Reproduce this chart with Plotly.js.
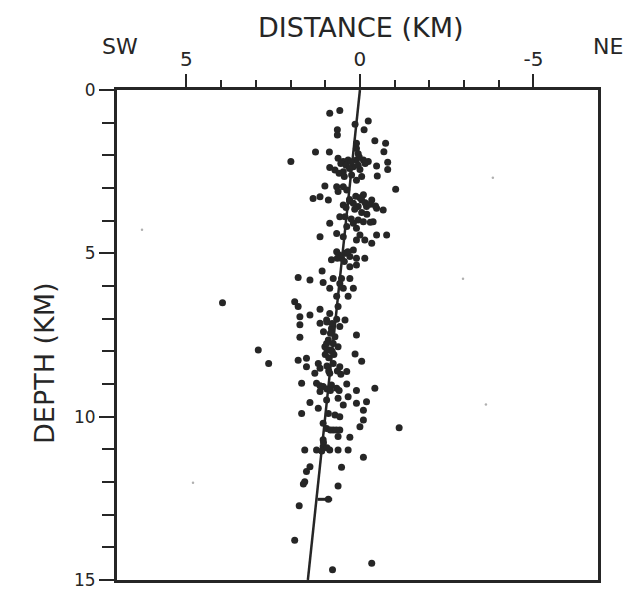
<!DOCTYPE html>
<html>
<head>
<meta charset="utf-8">
<script src="https://cdn.plot.ly/plotly-3.0.1.min.js"></script>
<style>
  html, body { margin: 0; padding: 0; background: #ffffff; }
  #chart { width: 627px; height: 591px; }
</style>
</head>
<body>
<div id="chart"></div>
<script>
// Earthquake hypocentres: distance along profile (km, SW positive) and depth (km)
const eventDistanceKm = [
  0.87, 0.58, 0.14, -0.24, 0.65, 0.65, -0.12, -0.43, -0.74, 0.10,
  0.10, 1.28, 0.88, 1.99, -0.69, -0.80, -0.48, -0.80, 0.63, 0.48,
  0.34, 0.10, -0.10, -0.24, 0.19, 0.87, 0.72, 0.00, 0.48, 0.24,
  -0.50, 1.01, 0.67, 0.48, 0.63, 0.38, -0.05, 0.10, -1.03, 1.35,
  1.15, 0.91, -0.10, 0.48, 0.19, -0.19, -0.48, -0.67, -0.34, 0.58,
  0.43, 0.87, 0.19, -0.10, -0.38, 0.10, 0.38, 0.67, 1.15, 0.48,
  0.00, -0.14, -0.48, -0.77, -0.34, 0.10, 0.67, 0.43, 0.19, 0.53,
  0.29, 0.82, 0.10, -0.14, 0.29, 0.10, 1.09, 1.78, 1.44, 0.77,
  0.53, 0.29, 1.06, 0.87, 0.58, 0.48, 0.19, 0.34, 0.67, 0.63,
  1.88, 1.78, 1.15, 0.87, 1.73, 1.73, 1.44, 1.15, 0.96, 0.67,
  0.43, 0.58, 1.73, 0.82, 0.10, 0.91, 0.77, 0.87, 0.63, 1.01,
  0.14, 1.78, 1.54, 1.54, 1.20, 1.15, 0.77, 0.58, 0.38, 0.87,
  -0.05, 1.30, 1.68, 1.25, 1.06, 1.15, 0.82, 0.67, 0.38, 0.10,
  -0.43, 1.44, 1.20, 0.96, 0.63, 0.34, 0.48, 0.10, -0.19, -0.10,
  1.68, 0.91, 0.72, 0.58, -0.10, 1.06, 0.96, 0.77, 0.58, 0.00,
  -1.13, 1.06, 0.63, 0.29, 1.59, 1.25, 1.06, 0.87, 0.63, 0.34,
  -0.10, 1.44, 1.54, 0.53, 1.59, 1.63, 0.63, 0.91, 1.75, 1.88,
  -0.34, 0.79, 3.96, 2.93, 2.63, 0.72, 0.96, -0.05, 0.05, 0.05,
  0.02, 0.12, 0.30,
  0.55, 0.40, 0.25, 0.05, -0.15, 0.30, 0.60, 0.45,
  0.00, -0.15, -0.30, -0.45, 0.30, 0.40, 0.15, -0.05, 0.25, 0.05, -0.20, -0.30,
  0.60, 0.35, 0.45, 0.65,
  0.95, 0.80, 1.05, 0.85, 0.95, 0.80, 1.00, 0.90, 0.75,
  0.95, 0.90, 0.65, 0.55,
  1.15, 0.95, 0.85, 0.60,
  0.85, 0.68, 1.05, 0.95, 1.10
];
const eventDepthKm = [
  0.71, 0.63, 1.05, 0.95, 1.22, 1.38, 1.22, 1.55, 1.63, 1.79,
  1.63, 1.90, 1.90, 2.19, 1.89, 2.21, 2.33, 2.43, 2.09, 2.19,
  2.14, 2.14, 2.14, 2.19, 2.35, 2.37, 2.45, 2.43, 2.50, 2.60,
  2.63, 2.94, 2.96, 2.96, 3.11, 3.06, 2.65, 2.76, 3.04, 3.32,
  3.27, 3.37, 3.21, 3.52, 3.47, 3.57, 3.62, 3.67, 3.37, 3.88,
  3.88, 4.08, 4.08, 4.03, 4.03, 4.23, 4.18, 4.39, 4.49, 4.49,
  4.44, 4.59, 4.44, 4.44, 4.69, 4.59, 4.95, 5.00, 4.90, 5.15,
  5.10, 5.20, 5.15, 5.15, 5.41, 5.36, 5.54, 5.74, 5.82, 5.77,
  5.77, 5.77, 5.89, 6.07, 5.92, 6.07, 6.07, 6.31, 6.31, 6.63,
  6.48, 6.63, 6.71, 6.84, 6.94, 7.19, 6.89, 7.14, 7.04, 7.02,
  7.04, 7.24, 7.57, 7.30, 7.50, 7.65, 7.76, 7.96, 7.86, 7.86,
  8.08, 8.27, 8.21, 8.47, 8.37, 8.52, 8.37, 8.47, 8.62, 8.67,
  8.30, 8.67, 8.98, 8.98, 9.08, 9.23, 9.03, 9.13, 9.00, 9.20,
  9.13, 9.57, 9.74, 9.49, 9.44, 9.39, 9.64, 9.59, 9.54, 9.80,
  9.90, 9.90, 9.95, 10.00, 10.10, 10.20, 10.36, 10.41, 10.41, 10.31,
  10.34, 10.71, 10.61, 10.63, 11.02, 11.02, 10.92, 11.02, 11.02, 11.02,
  11.24, 11.53, 11.68, 11.55, 11.99, 12.06, 12.12, 12.53, 12.73, 13.78,
  14.49, 14.69, 6.51, 7.96, 8.37, 7.55, 7.76, 3.37, 3.57, 1.95,
  2.05, 3.25, 3.35,
  2.25, 2.30, 2.20, 2.30, 2.25, 2.40, 2.55, 2.65,
  3.30, 3.45, 3.50, 3.55, 3.40, 3.60, 3.65, 3.75, 3.95, 3.98, 3.80, 4.05,
  5.05, 4.95, 5.25, 5.15,
  7.10, 7.15, 7.40, 7.45, 7.95, 8.00, 8.10, 8.20, 8.10,
  8.45, 8.60, 8.60, 8.70,
  9.05, 9.15, 9.20, 9.20,
  10.41, 10.41, 10.80, 10.95, 11.05
];
// faint specks on the original print
const speckDistanceKm = [-2.97, -3.63, 6.28, 4.81, -3.83];
const speckDepthKm = [5.78, 9.63, 4.28, 12.02, 2.69];
// fault trace and its short cross-mark
const faultDistanceKm = [0.0, 1.5];
const faultDepthKm = [0.0, 15.0];
const markDistanceKm = [1.22, 0.80];
const markDepthKm = [12.53, 12.53];

const xTickVals = [5, 0, -5];
const xTickText = ['5', '0', '-5'];
const xMinorVals = [4, 3, 2, 1, -1, -2, -3, -4];
const yTickVals = [0, 5, 10, 15];
const yTickText = ['0', '5', '10', '15'];
const yMinorVals = [1, 2, 3, 4, 6, 7, 8, 9, 11, 12, 13, 14];

const ink = '#262626';
const FONT = 'DejaVu Sans, sans-serif';

const traces = [
  { x: faultDistanceKm, y: faultDepthKm, mode: 'lines', type: 'scatter',
    line: { color: ink, width: 2.5 }, hoverinfo: 'skip', showlegend: false },
  { x: markDistanceKm, y: markDepthKm, mode: 'lines', type: 'scatter',
    line: { color: ink, width: 3 }, hoverinfo: 'skip', showlegend: false },
  { x: eventDistanceKm, y: eventDepthKm, mode: 'markers', type: 'scatter',
    marker: { color: ink, size: 7, line: { width: 0 } }, showlegend: false },
  { x: speckDistanceKm, y: speckDepthKm, mode: 'markers', type: 'scatter',
    marker: { color: '#b0b0b0', size: 2.5 }, showlegend: false }
];

const layout = {
  width: 627, height: 591,
  margin: { l: 117, r: 29, t: 90, b: 11, pad: 0 },
  paper_bgcolor: '#ffffff', plot_bgcolor: '#ffffff',
  font: { family: FONT, color: ink },
  showlegend: false,
  xaxis: {
    side: 'top', range: [7.0, -6.86], autorange: false,
    tickmode: 'array', tickvals: xTickVals, ticktext: xTickText,
    ticks: 'outside', ticklen: 13, tickwidth: 2, tickcolor: ink,
    tickfont: { family: FONT, size: 20, color: ink },
    minor: { tickmode: 'array', tickvals: xMinorVals, ticks: 'outside', ticklen: 7, tickwidth: 2, tickcolor: ink, showgrid: false },
    showline: true, linewidth: 3, linecolor: ink, mirror: true,
    showgrid: false, zeroline: false, fixedrange: true
  },
  yaxis: {
    range: [15, 0], autorange: false,
    tickmode: 'array', tickvals: yTickVals, ticktext: yTickText,
    ticks: 'outside', ticklen: 15, tickwidth: 2, tickcolor: ink,
    tickfont: { family: FONT, size: 17, color: ink },
    minor: { tickmode: 'array', tickvals: yMinorVals, ticks: 'outside', ticklen: 12, tickwidth: 2, tickcolor: ink, showgrid: false },
    showline: true, linewidth: 3, linecolor: ink, mirror: true,
    showgrid: false, zeroline: false, fixedrange: true
  },
  annotations: [
    { text: 'DISTANCE (KM)', xref: 'paper', yref: 'paper', x: 0.508, y: 1.0, yshift: 63,
      showarrow: false, xanchor: 'center', yanchor: 'middle', font: { family: FONT, size: 27, color: ink } },
    { text: 'SW', xref: 'paper', yref: 'paper', x: 0.006, y: 1.0, yshift: 44,
      showarrow: false, xanchor: 'center', yanchor: 'middle', font: { family: FONT, size: 22, color: ink } },
    { text: 'NE', xref: 'paper', yref: 'paper', x: 1.02, y: 1.0, yshift: 44,
      showarrow: false, xanchor: 'center', yanchor: 'middle', font: { family: FONT, size: 22, color: ink } },
    { text: 'DEPTH (KM)', xref: 'paper', yref: 'paper', x: 0, xshift: -72, y: 0.443,
      textangle: -90, showarrow: false, xanchor: 'center', yanchor: 'middle', font: { family: FONT, size: 27, color: ink } }
  ]
};

Plotly.newPlot('chart', traces, layout, { displayModeBar: false, staticPlot: true });
</script>
</body>
</html>
